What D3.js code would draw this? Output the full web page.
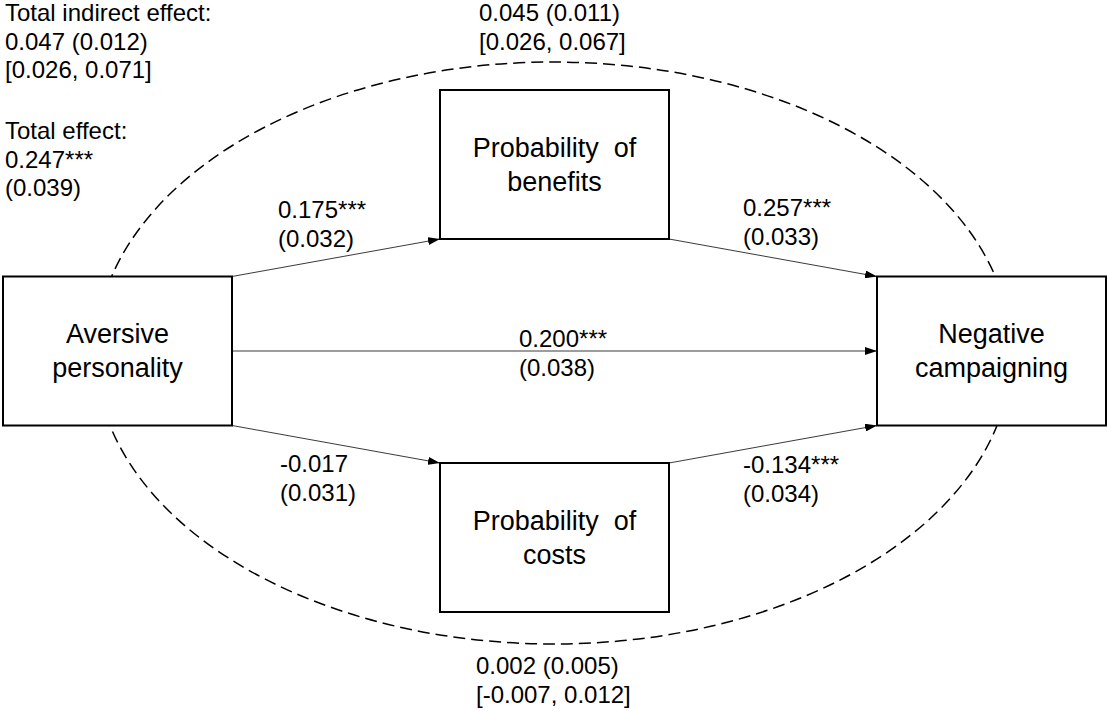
<!DOCTYPE html>
<html>
<head>
<meta charset="utf-8">
<script src="https://cdn.jsdelivr.net/npm/d3@7"></script>
<style>
  html, body { margin: 0; padding: 0; background: #fff; }
  svg { display: block; font-family: "Liberation Sans", Arial, sans-serif; }
</style>
</head>
<body>
<div id="chart"></div>
<script>
// variables of the mediation model
const nodeLabels = [
    ["Aversive", "personality"],
    ["Probability  of", "benefits"],
    ["Probability  of", "costs"],
    ["Negative", "campaigning"]
];

// paths: from -> to, coefficient and standard error
const pathFrom = [0, 1, 0, 0, 2];
const pathTo = [1, 3, 3, 2, 3];
const pathCoefs = ["0.175***", "0.257***", "0.200***", "-0.017", "-0.134***"];
const pathSEs = ["(0.032)", "(0.033)", "(0.038)", "(0.031)", "(0.034)"];

// specific indirect effects (estimate (se) and CI)
const indirectBenefits = ["0.045 (0.011)", "[0.026, 0.067]"];
const indirectCosts = ["0.002 (0.005)", "[-0.007, 0.012]"];

// summary texts
const totalIndirect = ["Total indirect effect:", "0.047 (0.012)", "[0.026, 0.071]"];
const totalEffect = ["Total effect:", "0.247***", "(0.039)"];

// layout (grid column / row of every node)
const nodeCol = [0, 1, 1, 2];
const nodeRow = [0, -1, 1, 0];

const W = 1107, H = 711;
const boxW = 229, boxH = 149;

const svg = d3.select("#chart")
    .append("svg")
    .attr("width", W)
    .attr("height", H);

const x = d3.scaleLinear().domain([0, 2]).range([117.5, 991.5]);
const y = d3.scaleLinear().domain([-1, 1]).range([164.5, 537.5]);

const nodes = nodeLabels.map((lab, i) => ({
    lines: lab,
    cx: x(nodeCol[i]),
    cy: y(nodeRow[i])
}));

// arrow head
svg.append("defs").append("marker")
    .attr("id", "arrow")
    .attr("markerUnits", "userSpaceOnUse")
    .attr("viewBox", "0 0 12 8")
    .attr("refX", 12)
    .attr("refY", 4)
    .attr("markerWidth", 12)
    .attr("markerHeight", 8)
    .attr("orient", "auto")
    .append("path")
    .attr("d", "M0,0 L12,4 L0,8 Z")
    .attr("fill", "#000");

// dashed ellipse around the indirect paths
svg.append("ellipse")
    .attr("cx", x(1) - 1)
    .attr("cy", y(0) + 2)
    .attr("rx", 458)
    .attr("ry", 291)
    .attr("fill", "none")
    .attr("stroke", "#000")
    .attr("stroke-width", 1.5)
    .attr("stroke-dasharray", "12,6");

// paths
const paths = pathFrom.map((f, i) => {
    const a = nodes[f], b = nodes[pathTo[i]];
    const dir = Math.sign(b.cy - a.cy);
    return {
        x1: a.cx + boxW / 2,
        y1: a.cy + dir * boxH / 2,
        x2: b.cx - boxW / 2,
        y2: b.cy - dir * boxH / 2,
        coef: pathCoefs[i],
        se: pathSEs[i]
    };
});

svg.selectAll(".path")
    .data(paths)
    .enter()
    .append("line")
    .attr("class", "path")
    .attr("x1", d => d.x1)
    .attr("y1", d => d.y1)
    .attr("x2", d => d.x2)
    .attr("y2", d => d.y2)
    .attr("stroke", "#3a3a3a")
    .attr("stroke-width", 1)
    .attr("marker-end", "url(#arrow)");

// boxes
const box = svg.selectAll(".node")
    .data(nodes)
    .enter()
    .append("g")
    .attr("class", "node");

box.append("rect")
    .attr("x", d => d.cx - boxW / 2)
    .attr("y", d => d.cy - boxH / 2)
    .attr("width", boxW)
    .attr("height", boxH)
    .attr("fill", "#fff")
    .attr("stroke", "#000")
    .attr("stroke-width", 2);

box.each(function(d) {
    d3.select(this).selectAll("text")
        .data(d.lines)
        .enter()
        .append("text")
        .attr("x", d.cx)
        .attr("y", (t, j) => d.cy - 8 + j * 34)
        .attr("text-anchor", "middle")
        .style("font-size", "27px")
        .style("white-space", "pre")
        .attr("fill", "#000")
        .text(t => t);
});

// label placement for each path (left x, first baseline)
const labelPos = [[278, 218], [743, 216], [519, 347], [280, 472], [743, 473]];
const lineGap = 28.5;

function textBlock(lines, lx, ly) {
    lines.forEach((t, j) => {
        svg.append("text")
            .attr("x", lx)
            .attr("y", ly + j * lineGap)
            .style("font-size", "24px")
            .attr("fill", "#000")
            .text(t);
    });
}

paths.forEach((p, i) => {
    textBlock([p.coef, p.se], labelPos[i][0], labelPos[i][1]);
});

textBlock(indirectBenefits, 479, 21);
textBlock(indirectCosts, 476, 674);
textBlock(totalIndirect, 5, 21);
textBlock(totalEffect, 5, 139);
</script>
</body>
</html>
